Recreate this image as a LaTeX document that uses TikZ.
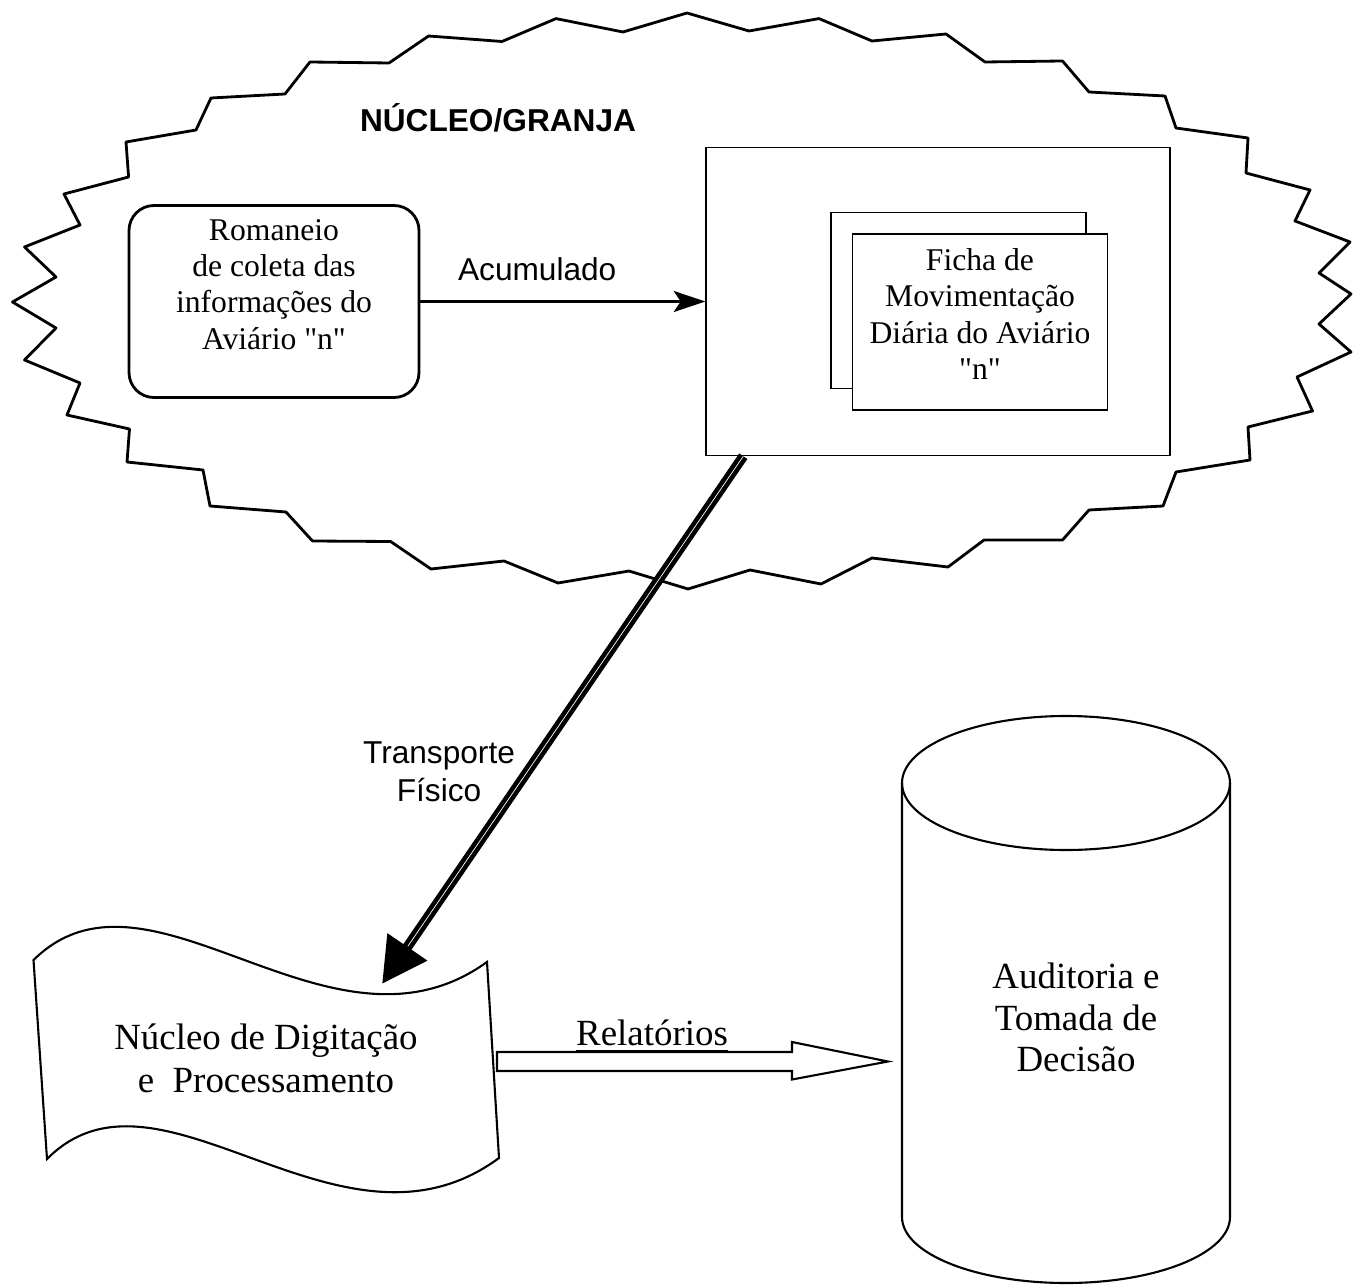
\documentclass[tikz,border=0pt]{standalone}
\usepackage{fontspec}
\setmainfont{Liberation Serif}
\setsansfont{Liberation Sans}
\usetikzlibrary{arrows.meta}
\def\q{\textquotedbl}

\begin{document}
\begin{tikzpicture}[
    sheet/.style={draw,thin,fill=white,minimum width=2.55cm,minimum height=1.76cm},
    serif/.style={align=center,font=\fontsize{9}{10.3}\selectfont},
    bigserif/.style={align=center,font=\fontsize{10.5}{12.1}\selectfont},
    lbl/.style={align=center,font=\sffamily\fontsize{9}{10.8}\selectfont},
    >={Stealth[length=9pt,width=6pt,inset=2pt]}]
    \useasboundingbox (0,0) rectangle (13.54,-12.85);

    % nucleo/granja
    \draw[thick,line join=round] (0.125,-3.02) -- (0.56,-2.77) -- (0.245,-2.47) -- (0.80,-2.25)
        -- (0.64,-1.94) -- (1.286,-1.77) -- (1.26,-1.42) -- (1.96,-1.30) -- (2.11,-0.98)
        -- (2.85,-0.94) -- (3.10,-0.62) -- (3.89,-0.63) -- (4.286,-0.36) -- (5.02,-0.415)
        -- (5.56,-0.186) -- (6.23,-0.32) -- (6.87,-0.13) -- (7.49,-0.31) -- (8.19,-0.186)
        -- (8.72,-0.41) -- (9.46,-0.34) -- (9.85,-0.62) -- (10.625,-0.61) -- (10.89,-0.92)
        -- (11.65,-0.96) -- (11.76,-1.28) -- (12.48,-1.38) -- (12.46,-1.73) -- (13.10,-1.90)
        -- (12.95,-2.21) -- (13.50,-2.42) -- (13.19,-2.73) -- (13.51,-2.94) -- (13.19,-3.24)
        -- (13.51,-3.52) -- (12.97,-3.77) -- (13.125,-4.11) -- (12.48,-4.27) -- (12.50,-4.60)
        -- (11.76,-4.72) -- (11.63,-5.06) -- (10.89,-5.10) -- (10.625,-5.40) -- (9.84,-5.40)
        -- (9.48,-5.67) -- (8.72,-5.58) -- (8.21,-5.84) -- (7.50,-5.70) -- (6.88,-5.89)
        -- (6.29,-5.71) -- (5.58,-5.83) -- (5.04,-5.61) -- (4.31,-5.69) -- (3.906,-5.415)
        -- (3.125,-5.41) -- (2.86,-5.12) -- (2.10,-5.06) -- (2.03,-4.70) -- (1.27,-4.62)
        -- (1.295,-4.29) -- (0.67,-4.15) -- (0.80,-3.83) -- (0.245,-3.60) -- (0.56,-3.28) -- cycle;
    \node[lbl,font=\sffamily\bfseries\fontsize{9}{10.8}\selectfont] (granja) at (4.98,-1.18) {NÚCLEO/GRANJA};

    \node[draw,thick,rounded corners=0.25cm,minimum width=2.9cm,minimum height=1.92cm] (rom) at (2.74,-3.015) {};
    \node[serif] (romtxt) at ([yshift=0.17cm]rom.center) {Romaneio\\de coleta das\\informações do\\Aviário \q n\q};

    \node[draw,thin,minimum width=4.64cm,minimum height=3.08cm] (fic) at (9.38,-3.015) {};
    \node[sheet] (back) at (9.585,-3.005) {};
    \node[sheet] (front) at (9.80,-3.22) {};
    \node[serif] (fictxt) at ([yshift=0.08cm]front.center) {Ficha de\\Movimentação\\Diária do Aviário\\\q n\q};

    \draw[->,line width=0.7pt] (rom) -- node[lbl,pos=0.41,above=0.08cm] {Acumulado} (fic);

    % nucleo de digitacao
    \draw[semithick] (0.335,-9.60) .. controls (1.5,-8.45) and (3.3,-10.75) .. (4.87,-9.62)
        -- (4.99,-11.58) .. controls (3.4,-12.75) and (1.6,-10.45) .. (0.47,-11.59) -- cycle;
    \node[bigserif] (nucleo) at (2.66,-10.585) {Núcleo de Digitação\\e\ \ Processamento};

    % transporte fisico
    \coordinate (tstart) at ([xshift=0.38cm]fic.south west);
    \coordinate (tend) at (3.82,-9.84);
    \draw[line width=2.8pt,-{Triangle[length=12.8pt,width=13pt]}] (tstart) -- (tend);
    \draw[white,line width=0.2pt,shorten >=13pt,xshift=-0.4pt,yshift=0.27pt] (tstart) -- (tend);
    \node[lbl] (transp) at (4.39,-7.72) {Transporte\\Físico};

    % auditoria
    \draw[semithick] (9.02,-7.83) -- (9.02,-12.17) arc[start angle=180,end angle=360,x radius=1.64,y radius=0.66] -- (12.30,-7.83);
    \draw[semithick] (10.66,-7.83) ellipse[x radius=1.64,y radius=0.67];
    \node[bigserif,font=\fontsize{10.5}{11.8}\selectfont] (audit) at (10.76,-10.175) {Auditoria e\\Tomada de\\Decisão};

    % relatorios
    \coordinate (relA) at (4.97,-10.615);
    \coordinate (relB) at (8.88,-10.615);
    \draw[semithick] (relA) ++(0,0.095) -- ++(2.95,0) -- ++(0,0.10) -- (relB)
        -- ++(-0.96,-0.18) -- ++(0,0.085) -- ++(-2.95,0) -- cycle;
    \node[bigserif,anchor=base] (rel) at (6.52,-10.456) {\underline{Relatórios}};
\end{tikzpicture}
\end{document}
